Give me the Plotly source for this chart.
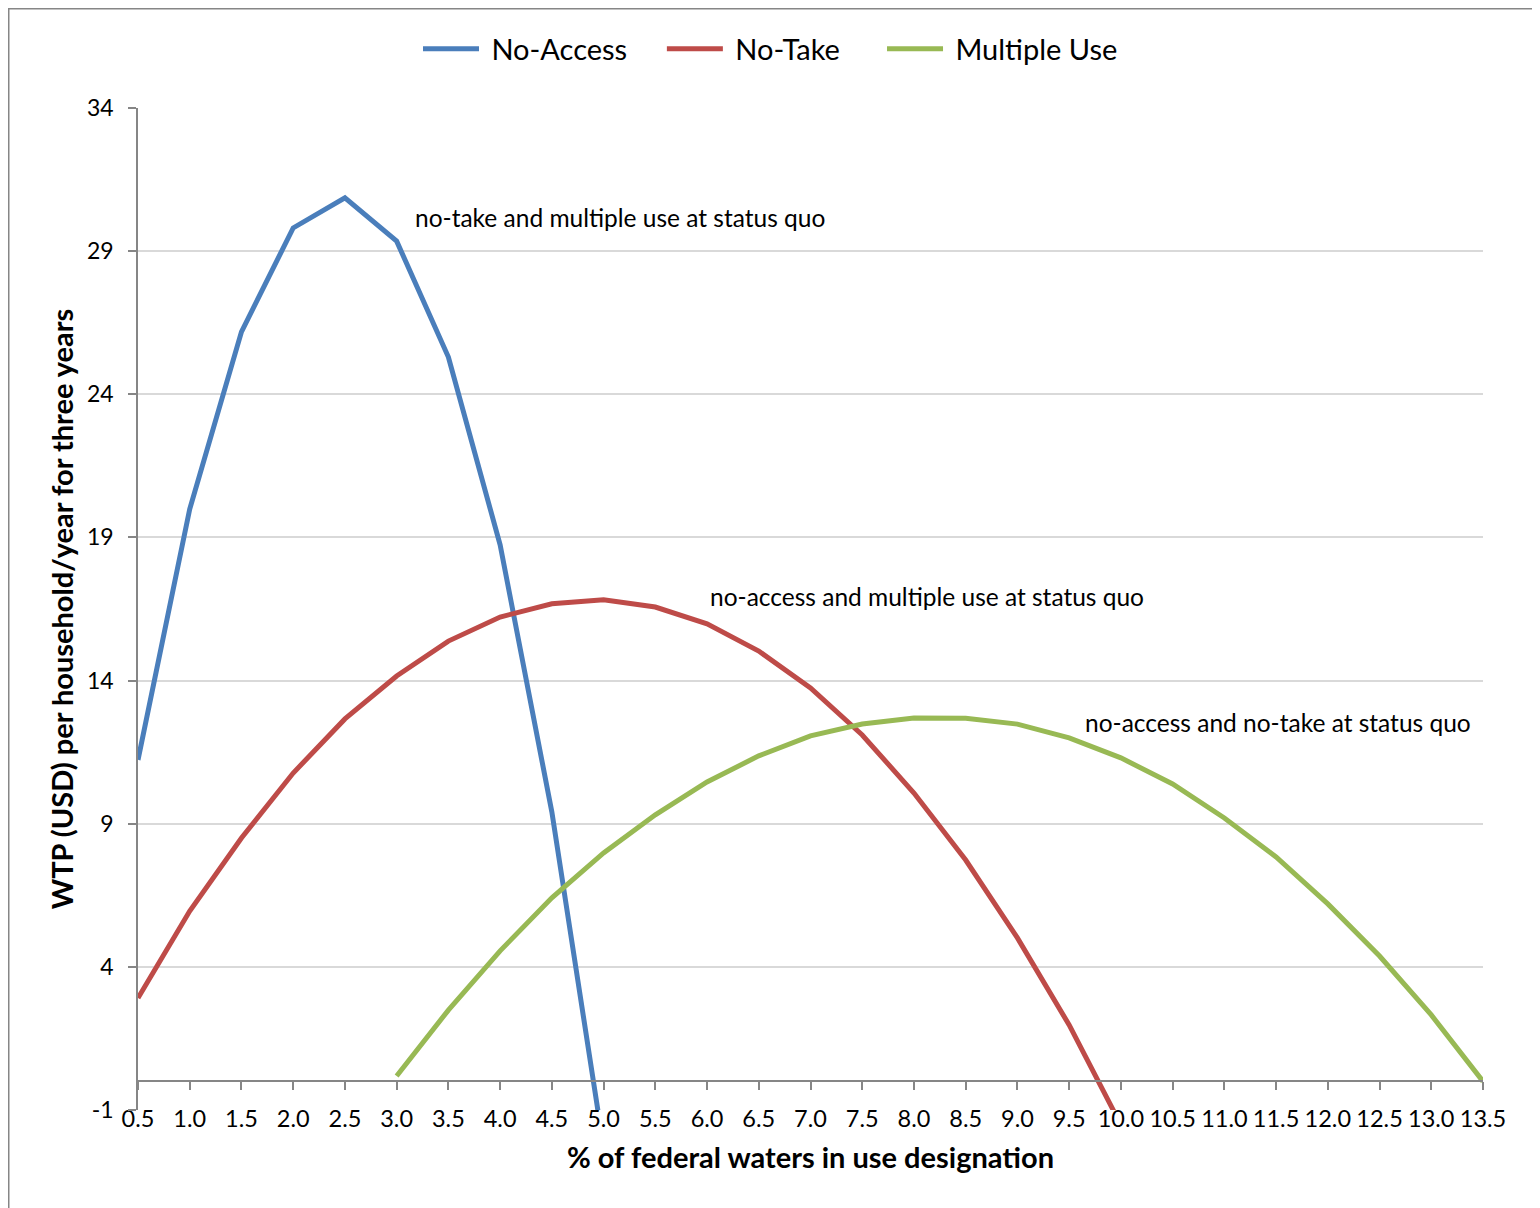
import plotly.graph_objects as go

x_pct = [0.5, 1.0, 1.5, 2.0, 2.5, 3.0, 3.5, 4.0, 4.5, 5.0, 5.5, 6.0, 6.5, 7.0,
         7.5, 8.0, 8.5, 9.0, 9.5, 10.0, 10.5, 11.0, 11.5, 12.0, 12.5, 13.0, 13.5]
tick_text = [f"{v:.1f}" for v in x_pct]

no_access_x = [0.5, 1.0, 1.5, 2.0, 2.5, 3.0, 3.5, 4.0, 4.5, 5.0]
no_access_y = [11.23, 19.99, 26.18, 29.81, 30.86, 29.35, 25.30, 18.74, 9.41, -2.3]

no_take_x = [0.5, 1.0, 1.5, 2.0, 2.5, 3.0, 3.5, 4.0, 4.5, 5.0, 5.5, 6.0, 6.5, 7.0,
             7.5, 8.0, 8.5, 9.0, 9.5, 10.0]
no_take_y = [2.91, 5.95, 8.50, 10.77, 12.66, 14.16, 15.38, 16.22, 16.68, 16.82,
             16.57, 15.98, 15.03, 13.74, 12.10, 10.07, 7.73, 5.01, 1.97, -1.52]

multi_x = [3.0, 3.5, 4.0, 4.5, 5.0, 5.5, 6.0, 6.5, 7.0, 7.5, 8.0, 8.5, 9.0, 9.5,
           10.0, 10.5, 11.0, 11.5, 12.0, 12.5, 13.0, 13.5]
multi_y = [0.19, 2.49, 4.56, 6.41, 7.98, 9.31, 10.46, 11.37, 12.07, 12.48, 12.69,
           12.68, 12.48, 12.00, 11.30, 10.39, 9.20, 7.84, 6.20, 4.38, 2.32, 0.0]

y_ticks = [-1, 4, 9, 14, 19, 24, 29, 34]

notes = [
    (3.16, 30.19, "no-take and multiple use at status quo"),
    (6.01, 16.95, "no-access and multiple use at status quo"),
    (9.63, 12.52, "no-access and no-take at status quo"),
]

FONT = "Lato"
W, H = 1532, 1200
L, R, T, B = 130, 1475, 100, 1102
NB = "\u00a0"

fig = go.Figure()
for name, pad, xs, ys, col in [("No-Access", 4, no_access_x, no_access_y, "#4A7EBB"),
                               ("No-Take", 5, no_take_x, no_take_y, "#BE4B48"),
                               ("Multiple Use", 0, multi_x, multi_y, "#98B954")]:
    fig.add_trace(go.Scatter(x=xs, y=ys, mode="lines", name=NB + name + NB * pad,
                             line=dict(color=col, width=5)))

# helper trace so the y=0 axis (xaxis2) renders
fig.add_trace(go.Scatter(x=x_pct, y=[None] * len(x_pct), xaxis="x2", mode="lines",
                         showlegend=False, hoverinfo="skip"))

for xv, yv, txt in notes:
    fig.add_annotation(x=xv, y=yv, text=txt, showarrow=False, xanchor="left",
                       yanchor="middle", font=dict(family=FONT, size=24.5, color="#000"))

ymin, ymax = -1, 34
px = lambda v: (v - L) / (R - L)
py = lambda v: (B - v) / (B - T)
fig.update_layout(
    width=W, height=H,
    margin=dict(l=L, r=W - R, t=T, b=H - B, pad=0),
    paper_bgcolor="white", plot_bgcolor="white",
    font=dict(family=FONT, color="#000"),
    showlegend=True,
    legend=dict(orientation="h", xref="container", yref="container",
                x=410 / W, xanchor="left", y=1 - 41 / H, yanchor="middle",
                font=dict(family=FONT, size=29), itemwidth=56,
                bgcolor="rgba(0,0,0,0)"),
    xaxis=dict(range=[0.5, 13.5], tickvals=x_pct, ticktext=tick_text,
               showgrid=False, zeroline=False, showline=False, ticks="",
               tickfont=dict(family=FONT, size=23.5), ticklabelstandoff=-8,
               title=dict(text="<b>% of federal waters in use designation</b>",
                          font=dict(family=FONT, size=29), standoff=17)),
    xaxis2=dict(range=[0.5, 13.5], overlaying="x", anchor="free",
                position=(0 - ymin) / (ymax - ymin), tickvals=x_pct,
                showticklabels=False, ticks="outside", ticklen=8, tickwidth=1.5,
                tickcolor="#868686", showline=True, linecolor="#868686",
                linewidth=1.5, showgrid=False, zeroline=False),
    yaxis=dict(range=[ymin, ymax], tickvals=y_ticks, ticktext=[str(v) for v in y_ticks],
               showgrid=True, gridcolor="#D9D9D9", gridwidth=1.5, zeroline=False,
               showline=True, linecolor="#868686", linewidth=1.5,
               ticks="outside", ticklen=8, tickwidth=1.5, tickcolor="#868686",
               tickfont=dict(family=FONT, size=23), ticklabelstandoff=10,
               title=dict(text="<b>WTP (USD) per household/year for three years</b>",
                          font=dict(family=FONT, size=29), standoff=5)),
    shapes=[dict(type="rect", xref="paper", yref="paper",
                 x0=px(0.75), x1=px(1527), y0=py(1215), y1=py(0.75),
                 line=dict(color="#868686", width=1.5), fillcolor="rgba(0,0,0,0)",
                 layer="below")],
)

fig.write_html("out.html")
